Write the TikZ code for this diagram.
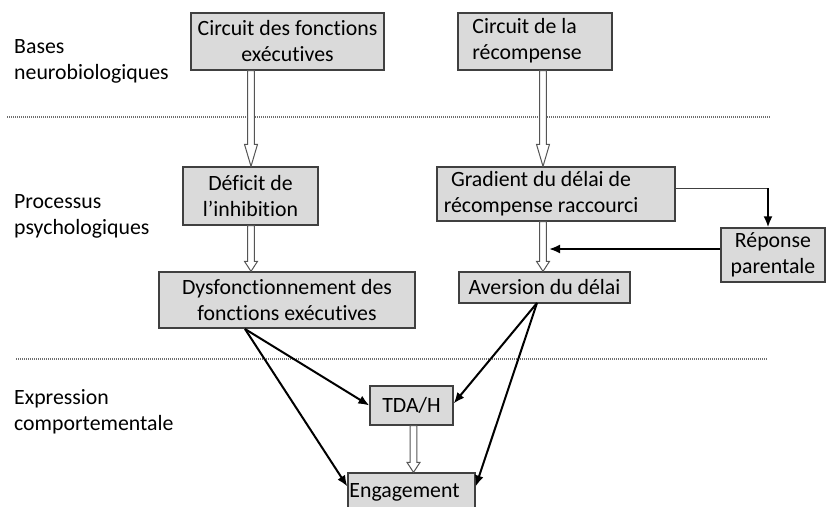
\documentclass[tikz,border=0pt]{standalone}
\usepackage{fontspec}
\setmainfont{Carlito}[Ligatures={NoCommon}]
\usetikzlibrary{arrows.meta,calc}
\definecolor{boxfill}{RGB}{218,218,218}
\definecolor{boxline}{RGB}{64,64,64}
\definecolor{holline}{RGB}{85,85,85}
\definecolor{sepcol}{RGB}{110,110,110}
\newcommand{\hollowarr}[3]{%
  \draw[hol] let \p1=(#1), \p2=(#2) in
    (\x1-3.3pt,\y1) -- (\x1+3.3pt,\y1) -- (\x1+3.3pt,\y2+#3) -- (\x1+6.5pt,\y2+#3)
    -- (\x1,\y2) -- (\x1-6.5pt,\y2+#3) -- (\x1-3.3pt,\y2+#3) -- cycle;}
\begin{document}
\begin{tikzpicture}[x=1pt,y=-1pt,
  txt/.style={font=\fontsize{21.8}{26}\selectfont},
  box/.style={txt, draw=boxline, line width=1.3pt, fill=boxfill, inner sep=0pt, align=center},
  lbl/.style={txt, anchor=west, align=left, inner sep=0pt},
  conn/.style={draw=black, line width=2pt, -{Latex[length=11pt,width=9pt]}},
  thinconn/.style={draw=boxline, line width=1pt},
  hol/.style={draw=holline, fill=white, line width=1pt},
  sep/.style={draw=sepcol, line width=1.2pt, dash pattern=on 1pt off 1pt}]
\useasboundingbox (0,0) rectangle (829,506);
\clip (0,0) rectangle (829,506);
% level labels
\node[lbl] (l1) at (14,61) {Bases\\neurobiologiques};
\node[lbl] (l2) at (14,216) {Processus\\psychologiques};
\node[lbl] (l3) at (14,412) {Expression\\comportementale};
% separators
\draw[sep] (7,117) -- (770,117);
\draw[sep] (16,359) -- (768,359);
% boxes
\node[box, minimum width=193pt, minimum height=57pt] (c1) at (287.5,41.5) {Circuit des fonctions\\exécutives};
\node[box, minimum width=154pt, minimum height=57pt] (c2) at (535,41.5) {\begin{tabular}{@{}l@{}}Circuit de la\\récompense\end{tabular}\hspace*{16pt}};
\node[box, minimum width=135pt, minimum height=58pt] (def) at (250.5,196) {Déficit de\\l’inhibition};
\node[box, minimum width=238pt, minimum height=54pt] (grad) at (556,194) {\begin{tabular}{@{}c@{}}Gradient du délai de\\récompense raccourci\end{tabular}\hspace*{30pt}};
\node[box, minimum width=104pt, minimum height=54pt] (rep) at (773,255) {Réponse\\parentale};
\node[box, minimum width=256pt, minimum height=56pt] (dys) at (287,300) {Dysfonctionnement des\\fonctions exécutives};
\node[box, minimum width=171pt, minimum height=31pt] (av) at (544.5,287.5) {Aversion du délai};
\node[box, minimum width=83pt, minimum height=39pt] (tda) at (411.5,405.5) {TDA/H};
\node[box, minimum width=127pt, minimum height=39pt] (eng) at (411.5,492.5) {Engagement\hspace*{14pt}};
% helper coordinates
\coordinate (xa) at (251,0);
\coordinate (xb) at (543,0);
\coordinate (xc) at (413.5,0);
\coordinate (corner) at (768,188);
\coordinate (ra) at (549,249);
\coordinate (dysout) at (245,329);
\coordinate (avout) at (537,303);
% hollow arrows
\hollowarr{c1.south -| xa}{def.north -| xa}{22pt}
\hollowarr{c2.south -| xb}{grad.north -| xb}{22pt}
\hollowarr{def.south -| xa}{dys.north -| xa}{10pt}
\hollowarr{grad.south -| xb}{av.north -| xb}{10pt}
\hollowarr{tda.south -| xc}{eng.north -| xc}{10pt}
% connectors
\draw[thinconn] (grad.east |- corner) -- (corner);
\draw[conn] (corner) -- (corner |- rep.north);
\draw[conn] (rep.west |- ra) -- (ra);
\draw[conn] (dysout) -- (tda.west);
\draw[conn] (dysout) -- ([yshift=6pt]eng.west);
\draw[conn] (avout) -- ([yshift=2pt]tda.east);
\draw[conn] (avout) -- ([yshift=6pt]eng.east);
\end{tikzpicture}
\end{document}
